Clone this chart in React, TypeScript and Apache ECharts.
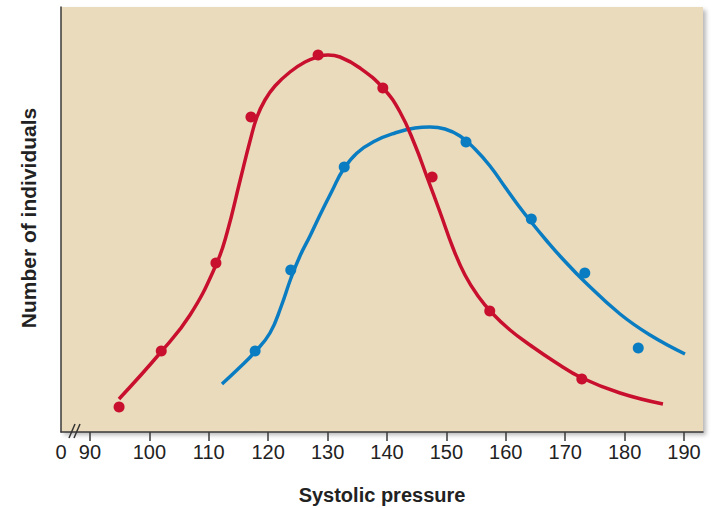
import React, { useEffect, useRef } from "react";
import * as echarts from "echarts";

// Tick labels on the x axis
const xTicks = [90, 100, 110, 120, 130, 140, 150, 160, 170, 180, 190];
const xMin = 85.12;
const xMax = 193.2;

// Red population: observed points
const redDotX = [94.9, 102.0, 111.2, 117.1, 128.4, 139.3, 147.6, 157.3, 172.8];
const redDotY = [25, 81, 169, 315, 377, 344, 255, 121, 53];

// Red population: fitted curve
const redCurveX = [94.88, 101.95, 106.84, 111.21, 113.06, 115.25, 116.94, 118.11, 119.46, 121.14, 123.67, 126.2, 128.38, 130.07, 132.09, 135.45, 139.33, 142.19, 144.71, 146.73, 148.92, 151.11, 153.13, 155.32, 157.68, 160.71, 164.07, 168.28, 172.83, 179.23, 186.46];
const redCurveY = [33, 80, 117, 167, 199, 251, 291, 315, 332, 346, 360, 370, 375, 377, 375, 364, 344, 320, 287, 255, 220, 184, 157, 136, 119, 102, 87, 70, 54, 39, 28];

// Blue population: observed points
const blueDotX = [117.8, 123.8, 132.8, 153.3, 164.3, 173.3, 182.3];
const blueDotY = [81, 162, 265, 290, 213, 159, 84];

// Blue population: fitted curve
const blueCurveX = [112.22, 114.92, 117.78, 120.3, 122.15, 123.84, 125.35, 127.04, 128.72, 130.74, 132.59, 134.95, 137.98, 141.35, 144.71, 147.24, 149.76, 152.29, 154.81, 157.34, 159.87, 162.05, 164.41, 166.77, 169.12, 173.33, 179.23, 184.28, 190.17];
const blueCurveY = [48, 63, 80, 99, 125, 154, 176, 196, 217, 241, 262, 279, 291, 299, 304, 305, 303, 296, 283, 266, 245, 227, 209, 192, 176, 150, 118, 97, 78];

const RED = "#C8102E";
const BLUE = "#0A7DC2";

const zip = (xs: number[], ys: number[]) => xs.map((x, i) => [x, ys[i]]);

export default function App() {
  const ref = useRef<HTMLDivElement>(null);
  useEffect(() => {
    if (!ref.current) return;
    const chart = echarts.init(ref.current, null, { renderer: "svg" });
    chart.setOption({
      animation: false,
      backgroundColor: "#ffffff",
      grid: {
        left: 61,
        top: 7,
        right: 13,
        bottom: 76,
        show: true,
        backgroundColor: "#EBDBBD",
        borderWidth: 0,
        shadowColor: "rgba(0,0,0,0.28)",
        shadowBlur: 4,
        shadowOffsetX: 3,
        shadowOffsetY: 3,
      },
      xAxis: {
        type: "value",
        min: xMin,
        max: xMax,
        splitLine: { show: false },
        axisLine: { show: true, lineStyle: { color: "#3a3a3a", width: 1.5 } },
        axisTick: {
          show: true,
          length: 9,
          lineStyle: { color: "#3a3a3a", width: 1.5 },
          customValues: xTicks,
        },
        axisLabel: {
          customValues: [xMin, ...xTicks],
          formatter: (v: number) => (v < 89 ? "0" : String(Math.round(v))),
          color: "#222",
          fontSize: 20,
          fontFamily: "Liberation Sans, Arial, sans-serif",
          margin: 10,
        },
      },
      yAxis: {
        type: "value",
        min: 0,
        max: 425,
        splitLine: { show: false },
        axisLine: { show: true, lineStyle: { color: "#3a3a3a", width: 1.5 } },
        axisTick: { show: false },
        axisLabel: { show: false },
      },
      graphic: [
        {
          type: "text",
          x: 382,
          y: 485,
          style: {
            text: "Systolic pressure",
            fill: "#222",
            font: "bold 20px 'Liberation Sans', Arial, sans-serif",
            textAlign: "center",
            textVerticalAlign: "top",
          },
          z: 10,
        },
        {
          type: "text",
          x: 28,
          y: 218,
          rotation: Math.PI / 2,
          style: {
            text: "Number of individuals",
            fill: "#222",
            font: "bold 21px 'Liberation Sans', Arial, sans-serif",
            textAlign: "center",
            textVerticalAlign: "middle",
          },
          z: 10,
        },
        {
          type: "line",
          shape: { x1: 69, y1: 438, x2: 75, y2: 424 },
          style: { stroke: "#333", lineWidth: 1.5 },
          z: 10,
        },
        {
          type: "line",
          shape: { x1: 74, y1: 438, x2: 80, y2: 424 },
          style: { stroke: "#333", lineWidth: 1.5 },
          z: 10,
        },
      ],
      series: [
        {
          type: "line",
          data: zip(blueCurveX, blueCurveY),
          smooth: 0.45,
          showSymbol: false,
          lineStyle: { color: BLUE, width: 3.5 },
          z: 2,
        },
        {
          type: "scatter",
          data: zip(blueDotX, blueDotY),
          symbolSize: 11,
          itemStyle: { color: BLUE, opacity: 1 },
          z: 3,
        },
        {
          type: "line",
          data: zip(redCurveX, redCurveY),
          smooth: 0.45,
          showSymbol: false,
          lineStyle: { color: RED, width: 3.5 },
          z: 4,
        },
        {
          type: "scatter",
          data: zip(redDotX, redDotY),
          symbolSize: 11,
          itemStyle: { color: RED, opacity: 1 },
          z: 5,
        },
      ],
    });
    return () => chart.dispose();
  }, []);
  return (
    <div
      ref={ref}
      style={{ position: "absolute", left: 0, top: 0, width: 716, height: 508 }}
    />
  );
}
